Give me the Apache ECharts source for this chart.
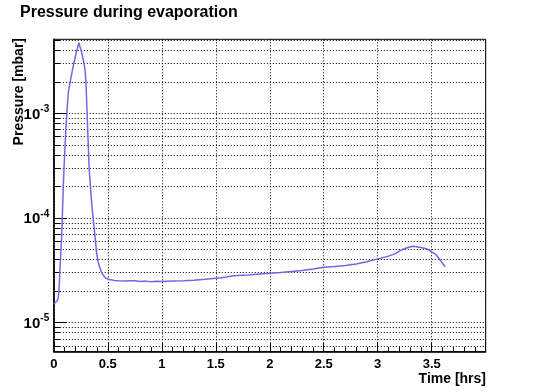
<!DOCTYPE html>
<html>
<head>
<meta charset="utf-8">
<script src="https://cdn.jsdelivr.net/npm/echarts@6/dist/echarts.min.js"></script>
<style>html,body{margin:0;padding:0;background:#fff;}#c{width:540px;height:392px;}</style>
</head>
<body>
<div id="c"></div>
<script>
// ---- data (time in hours, pressure in mbar) ----
const times = [0, 0.011, 0.03, 0.042, 0.05, 0.057, 0.065, 0.073, 0.08, 0.088, 0.096, 0.104, 0.119, 0.134, 0.15, 0.165, 0.18, 0.196, 0.212, 0.233, 0.245, 0.258, 0.274, 0.289, 0.298, 0.304, 0.31, 0.319, 0.328, 0.34, 0.351, 0.366, 0.381, 0.397, 0.412, 0.428, 0.443, 0.46, 0.48, 0.5, 0.53, 0.56, 0.6, 0.65, 0.7, 0.75, 0.8, 0.85, 0.9, 0.95, 1.0, 1.05, 1.1, 1.2, 1.3, 1.4, 1.5, 1.55, 1.6, 1.66, 1.7, 1.8, 1.9, 2.0, 2.1, 2.2, 2.3, 2.4, 2.5, 2.6, 2.7, 2.8, 2.9, 3.0, 3.1, 3.17, 3.2, 3.233, 3.28, 3.326, 3.36, 3.388, 3.43, 3.465, 3.496, 3.52, 3.542, 3.572, 3.6, 3.625];
const pressures = [1.5e-5, 1.5e-5, 1.6e-5, 1.72e-5, 2.2e-5, 3.2e-5, 4.6e-5, 6.7e-5, 1.1e-4, 2.0e-4, 3.2e-4, 4.86e-4, 9.4e-4, 1.57e-3, 1.96e-3, 2.35e-3, 2.84e-3, 3.35e-3, 3.94e-3, 4.74e-3, 4.25e-3, 3.8e-3, 3.2e-3, 2.64e-3, 1.96e-3, 1.35e-3, 8.8e-4, 5.1e-4, 2.9e-4, 1.95e-4, 1.39e-4, 9.5e-5, 6.7e-5, 4.6e-5, 3.72e-5, 3.3e-5, 3.0e-5, 2.8e-5, 2.66e-5, 2.6e-5, 2.55e-5, 2.52e-5, 2.5e-5, 2.48e-5, 2.5e-5, 2.5e-5, 2.46e-5, 2.48e-5, 2.44e-5, 2.47e-5, 2.46e-5, 2.47e-5, 2.48e-5, 2.5e-5, 2.53e-5, 2.58e-5, 2.64e-5, 2.67e-5, 2.72e-5, 2.79e-5, 2.8e-5, 2.84e-5, 2.9e-5, 2.95e-5, 3.0e-5, 3.06e-5, 3.13e-5, 3.24e-5, 3.36e-5, 3.42e-5, 3.5e-5, 3.62e-5, 3.8e-5, 4.05e-5, 4.3e-5, 4.57e-5, 4.8e-5, 5.0e-5, 5.2e-5, 5.34e-5, 5.28e-5, 5.22e-5, 5.12e-5, 5.0e-5, 4.74e-5, 4.6e-5, 4.41e-5, 4.01e-5, 3.68e-5, 3.4e-5];

// axis ranges and tick values
const xMin = 0, xMax = 4, xStep = 0.5;
const xTickLabels = ['0', '0.5', '1', '1.5', '2', '2.5', '3', '3.5'];
const yMin = 5.24e-6, yMax = 5.1e-3;
const yMajorTicks = [1e-5, 1e-4, 1e-3];
const yMajorLabels = ['-5', '-4', '-3'];
const yMinorTicks = [6e-6, 7e-6, 8e-6, 9e-6,
  2e-5, 3e-5, 4e-5, 5e-5, 6e-5, 7e-5, 8e-5, 9e-5,
  2e-4, 3e-4, 4e-4, 5e-4, 6e-4, 7e-4, 8e-4, 9e-4,
  2e-3, 3e-3, 4e-3, 5e-3];

const titleText = 'Pressure during evaporation';
const xTitle = 'Time [hrs]';
const yTitle = 'Pressure [mbar]';

const FONT = '"Liberation Sans", Arial, Helvetica, sans-serif';
const lineData = times.map((t, i) => [t, pressures[i]]);
const yTickData = yMajorTicks.map((v, i) => [xMin, v, 1, i]).concat(yMinorTicks.map(v => [xMin, v, 0, -1]));

function renderYTick(params, api) {
  const v = api.value(1);
  const major = api.value(2) === 1;
  const idx = api.value(3);
  const p0 = api.coord([xMin, v]);
  const p1 = api.coord([xMax, v]);
  const y = Math.round(p0[1]) + 0.5;
  const children = [
    {type: 'line', shape: {x1: p0[0], y1: y, x2: p1[0], y2: y},
     style: {stroke: '#000', lineWidth: 1, lineDash: [1, 2]}},
    {type: 'line', shape: {x1: p0[0], y1: y, x2: p0[0] + (major ? 13 : 6.5), y2: y},
     style: {stroke: '#000', lineWidth: 1}}
  ];
  if (major) {
    children.push({type: 'text', x: p0[0] - 13.5, y: p0[1] + 1.5,
      style: {text: '10', fill: '#000', font: 'bold 15px ' + FONT, align: 'right', verticalAlign: 'middle'}});
    children.push({type: 'text', x: p0[0] - 13.5, y: p0[1] - 4,
      style: {text: yMajorLabels[idx], fill: '#000', font: 'bold 10px ' + FONT, align: 'left', verticalAlign: 'middle'}});
  }
  return {type: 'group', children: children};
}

const chart = echarts.init(document.getElementById('c'), null, {renderer: 'canvas'});
chart.setOption({
  animation: false,
  backgroundColor: '#fff',
  title: {
    text: titleText, left: 20, top: 5, padding: 0,
    textStyle: {fontSize: 16, fontWeight: 'bold', fontFamily: FONT, color: '#000'}
  },
  grid: {left: 53.8, right: 54.3, top: 39.3, bottom: 40.3, show: true, borderColor: '#000', borderWidth: 1, containLabel: false},
  xAxis: {
    type: 'value', min: xMin, max: xMax, interval: xStep,
    axisLine: {show: true, onZero: false, lineStyle: {color: '#000', width: 1.5}},
    axisTick: {show: true, inside: true, length: 9, lineStyle: {color: '#000'}},
    minorTick: {show: true, splitNumber: 5, length: 4.5, lineStyle: {color: '#000'}},
    splitLine: {show: true, lineStyle: {color: '#000', width: 1, type: [1, 2]}},
    axisLabel: {
      show: true, margin: 6, color: '#000', fontSize: 13, fontWeight: 'bold', fontFamily: FONT,
      formatter: function (v) {
        const i = Math.round(v / xStep);
        return (Math.abs(v - i * xStep) < 1e-9 && i < xTickLabels.length) ? xTickLabels[i] : '';
      }
    }
  },
  yAxis: {
    type: 'log', logBase: 10, min: yMin, max: yMax,
    axisLine: {show: true, lineStyle: {color: '#000', width: 1.5}},
    axisTick: {show: false},
    splitLine: {show: false},
    axisLabel: {show: false}
  },
  graphic: [
    {type: 'text', x: 19, y: 38, rotation: Math.PI / 2,
     style: {text: yTitle, fill: '#000', font: 'bold 14px ' + FONT, align: 'right', verticalAlign: 'middle'}},
    {type: 'text', x: 486, y: 379,
     style: {text: xTitle, fill: '#000', font: 'bold 14px ' + FONT, align: 'right', verticalAlign: 'middle'}}
  ],
  series: [
    {type: 'custom', renderItem: renderYTick, data: yTickData, clip: false, z: 1, silent: true},
    {type: 'line', data: lineData, showSymbol: false, symbol: 'none', z: 3,
     lineStyle: {color: '#6a6ae6', width: 1.5}, itemStyle: {color: '#6a6ae6'}}
  ]
});
</script>
</body>
</html>
